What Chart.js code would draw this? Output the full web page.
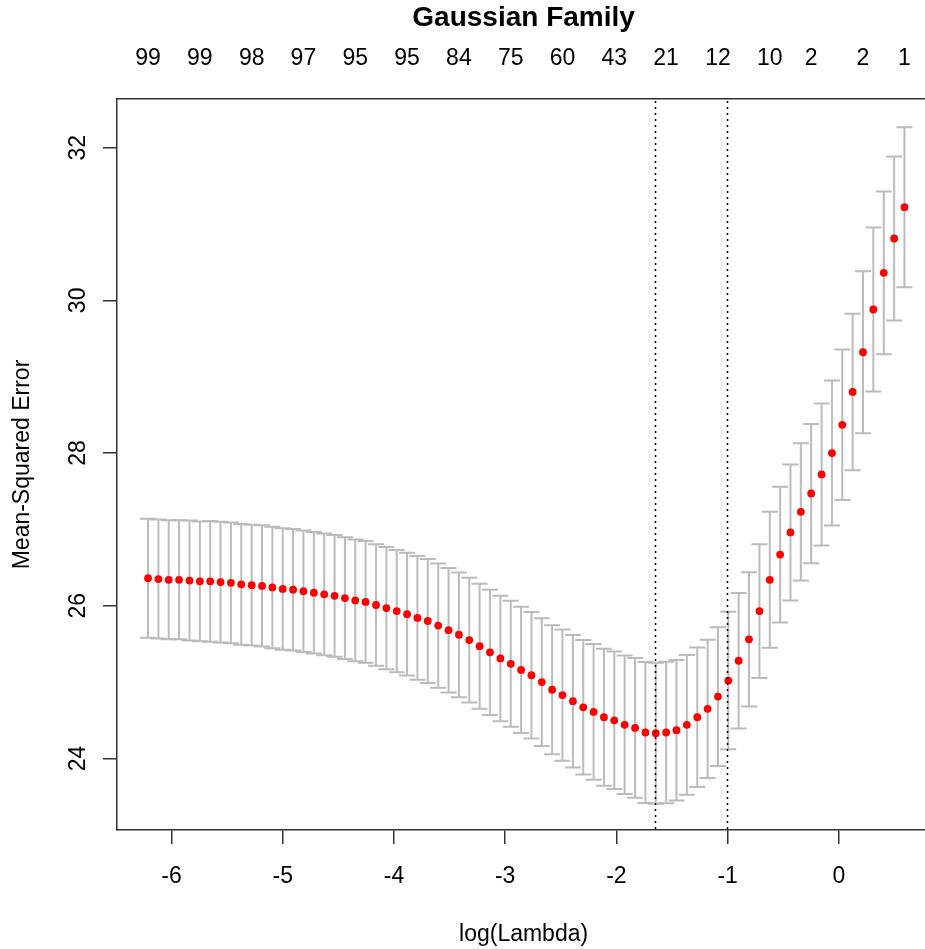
<!DOCTYPE html>
<html>
<head>
<meta charset="utf-8">
<title>Gaussian Family</title>
<script src="https://cdn.jsdelivr.net/npm/chart.js@4.4.1/dist/chart.umd.min.js"></script>
<style>
  html, body { margin: 0; padding: 0; background: #fff; overflow: hidden; }
</style>
</head>
<body>
<canvas id="cvChart" width="938" height="949"></canvas>
<script>
// log(lambda) sequence of the cv fit
const logLambda = [
  -6.211, -6.118, -6.025, -5.932, -5.838, -5.745, -5.652, -5.559, -5.466, -5.373,
  -5.279, -5.186, -5.093, -5.000, -4.907, -4.814, -4.720, -4.627, -4.534, -4.441,
  -4.348, -4.255, -4.161, -4.068, -3.975, -3.882, -3.789, -3.696, -3.602, -3.509,
  -3.416, -3.323, -3.230, -3.137, -3.043, -2.950, -2.857, -2.764, -2.671, -2.578,
  -2.485, -2.391, -2.298, -2.205, -2.112, -2.019, -1.926, -1.832, -1.739, -1.646,
  -1.553, -1.460, -1.367, -1.273, -1.180, -1.087, -0.994, -0.901, -0.808, -0.714,
  -0.621, -0.528, -0.435, -0.342, -0.249, -0.155, -0.062, 0.031, 0.124, 0.217,
  0.310, 0.404, 0.497, 0.590
];

// mean cross-validated error
const cvm = [
  26.36, 26.35, 26.34, 26.34, 26.33, 26.32, 26.32, 26.31, 26.30, 26.28,
  26.27, 26.26, 26.24, 26.22, 26.21, 26.19, 26.17, 26.15, 26.13, 26.10,
  26.07, 26.05, 26.01, 25.97, 25.93, 25.89, 25.84, 25.80, 25.74, 25.68,
  25.62, 25.55, 25.47, 25.39, 25.31, 25.24, 25.16, 25.09, 25.00, 24.90,
  24.83, 24.75, 24.67, 24.61, 24.54, 24.50, 24.44, 24.40, 24.34, 24.33,
  24.34, 24.37, 24.44, 24.54, 24.65, 24.81, 25.02, 25.28, 25.56, 25.93,
  26.34, 26.67, 26.96, 27.23, 27.47, 27.72, 28.00, 28.37, 28.80, 29.32,
  29.88, 30.36, 30.81, 31.22
];

// standard error of cvm (half length of the error bars)
const cvsd = [
  0.780, 0.780, 0.780, 0.780, 0.785, 0.785, 0.790, 0.790, 0.790, 0.790,
  0.790, 0.795, 0.795, 0.795, 0.795, 0.795, 0.795, 0.797, 0.797, 0.797,
  0.797, 0.797, 0.797, 0.800, 0.800, 0.805, 0.810, 0.812, 0.814, 0.816,
  0.817, 0.818, 0.818, 0.820, 0.822, 0.825, 0.827, 0.829, 0.837, 0.846,
  0.860, 0.867, 0.880, 0.890, 0.897, 0.901, 0.907, 0.916, 0.923, 0.923,
  0.927, 0.921, 0.916, 0.914, 0.906, 0.908, 0.901, 0.888, 0.880, 0.877,
  0.890, 0.890, 0.890, 0.899, 0.912, 0.930, 0.950, 0.986, 1.026, 1.061,
  1.074, 1.067, 1.074, 1.047
];

// number of nonzero coefficients shown on the top axis
const nzeroIndex = [0, 5, 10, 15, 20, 25, 30, 35, 40, 45, 50, 55, 60, 64, 69, 73];
const nzeroLabels = ['99', '99', '98', '97', '95', '95', '84', '75', '60', '43', '21', '12', '10', '2', '2', '1'];

// lambda.min and lambda.1se
const lambdaLines = [-1.65, -1.005];

const xMin = -6.49, xMax = 0.821;
const yMin = 23.063, yMax = 32.637;

Chart.defaults.font.family = "'Liberation Sans', Arial, sans-serif";
Chart.defaults.color = '#000';

// error bars, drawn under the points
const errorBars = {
  id: 'errorBars',
  beforeDatasetsDraw(chart) {
    const { ctx, scales: { x, y } } = chart;
    ctx.save();
    ctx.strokeStyle = '#bbbbbb';
    ctx.lineWidth = 2;
    logLambda.forEach((l, i) => {
      const px = x.getPixelForValue(l);
      const top = y.getPixelForValue(cvm[i] + cvsd[i]);
      const bot = y.getPixelForValue(cvm[i] - cvsd[i]);
      ctx.beginPath();
      ctx.moveTo(px, top); ctx.lineTo(px, bot);
      ctx.moveTo(px - 8, top); ctx.lineTo(px + 8, top);
      ctx.moveTo(px - 8, bot); ctx.lineTo(px + 8, bot);
      ctx.stroke();
    });
    ctx.restore();
  }
};

// dotted vertical lines on top
const vLines = {
  id: 'vLines',
  afterDatasetsDraw(chart) {
    const { ctx, chartArea, scales: { x } } = chart;
    ctx.save();
    ctx.strokeStyle = '#000';
    ctx.lineWidth = 1.5;
    ctx.setLineDash([2, 4]);
    lambdaLines.forEach(v => {
      const px = Math.round(x.getPixelForValue(v)) + 0.5;
      ctx.beginPath();
      ctx.moveTo(px, chartArea.top + 2);
      ctx.lineTo(px, chartArea.bottom);
      ctx.stroke();
    });
    ctx.restore();
  }
};

const axisBorder = { display: true, color: '#333', width: 1.5 };

const chart = new Chart(document.getElementById('cvChart'), {
  type: 'scatter',
  data: {
    datasets: [{
      data: logLambda.map((l, i) => ({ x: l, y: cvm[i] })),
      pointRadius: 3.9,
      pointHoverRadius: 3.9,
      pointBackgroundColor: '#ff0000',
      pointBorderWidth: 0
    }]
  },
  options: {
    responsive: false,
    animation: false,
    layout: { padding: { left: 0, right: 1, top: 0, bottom: 0 } },
    plugins: {
      legend: { display: false },
      tooltip: { enabled: false }
    },
    scales: {
      x: {
        type: 'linear',
        position: 'bottom',
        min: xMin,
        max: xMax,
        afterFit: s => { s.height = 119; },
        ticks: { stepSize: 1, includeBounds: false, padding: 19, maxRotation: 0, font: { size: 23 } },
        grid: { drawOnChartArea: false, drawTicks: true, tickLength: 14, color: '#333', lineWidth: 1.5 },
        border: axisBorder,
        title: { display: true, text: 'log(Lambda)', font: { size: 23 }, padding: { top: 0, bottom: 1 } }
      },
      x2: {
        type: 'linear',
        position: 'top',
        min: xMin,
        max: xMax,
        afterFit: s => { s.height = 99; },
        afterBuildTicks: s => { s.ticks = nzeroIndex.map(i => ({ value: logLambda[i] })); },
        ticks: {
          autoSkip: false,
          maxRotation: 0,
          padding: 27,
          font: { size: 23 },
          callback: (v, i) => nzeroLabels[i]
        },
        grid: { display: false, drawTicks: false },
        border: axisBorder,
        title: { display: true, text: 'Gaussian Family', font: { size: 28, weight: 'bold' }, padding: { top: 1, bottom: 0 } }
      },
      y: {
        type: 'linear',
        min: yMin,
        max: yMax,
        afterFit: s => { s.width = 117; },
        ticks: {
          stepSize: 2,
          includeBounds: false,
          minRotation: 90,
          maxRotation: 90,
          crossAlign: 'center',
          padding: 12,
          font: { size: 23 }
        },
        grid: { drawOnChartArea: false, drawTicks: true, tickLength: 14, color: '#333', lineWidth: 1.5 },
        border: axisBorder,
        title: { display: true, text: 'Mean-Squared Error', font: { size: 23 }, padding: { top: 9, bottom: 0 } }
      }
    }
  },
  plugins: [errorBars, vLines]
});
</script>
</body>
</html>
